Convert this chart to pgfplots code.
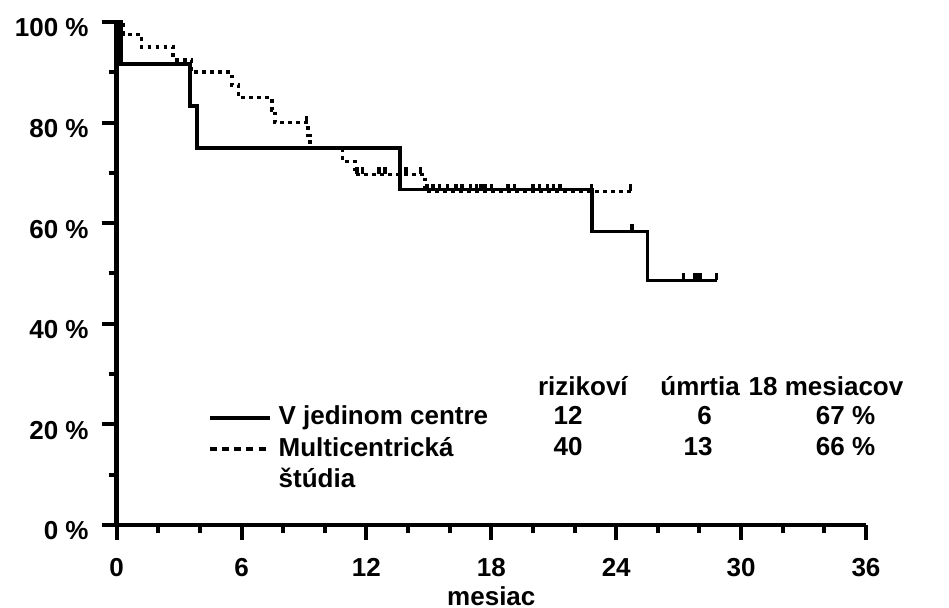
\documentclass[border=0pt]{standalone}
\usepackage{fontspec}
\setmainfont{Liberation Sans}
\usepackage{pgfplots}
\pgfplotsset{compat=1.18}
\newcommand{\myfont}{\bfseries\fontsize{13}{15.6}\selectfont}
\begin{document}
\begin{tikzpicture}
\begin{axis}[
  scale only axis, width=374.65pt, height=251.5pt,
  xmin=0, xmax=36, ymin=0, ymax=100,
  axis x line*=bottom, axis y line*=left,
  axis line style={line width=2.3pt, -},
  xtick={0,6,...,36}, minor x tick num=2,
  xticklabels={0,6,12,18,24,30,36},
  ytick={0,20,...,100}, minor y tick num=1,
  yticklabels={0 \%,20 \%,40 \%,60 \%,80 \%,100 \%},
  tick align=outside, major tick length=7.5pt, minor tick length=4pt,
  every tick/.append style={black, line width=2pt},
  /pgf/number format/assume math mode=true,
  tick label style={font=\myfont},
  xticklabel style={yshift=-5.5pt},
  yticklabel style={xshift=-3pt, yshift=-3pt},
  xlabel={mesiac},
  xlabel style={font=\myfont, at={(axis description cs:0.5,-0.160)}, anchor=base},
  clip=false,
  legend cell align=left,
  legend image code/.code={\draw[#1] (0pt,0pt) -- (30pt,0pt);},
  legend style={at={(axis cs:4.39,19.88)}, anchor=north west, yshift=10pt,
    draw=none, fill=none, inner sep=0pt, outer sep=0pt,
    row sep=2.5pt, column sep=3.5pt, font=\myfont,
    nodes={inner sep=0pt, text height=10pt, text depth=3pt}},
]
% V jedinom centre
\addplot[forget plot, black, line width=1.8pt, const plot] coordinates {
 (0,100) (0.2,91.67) (3.52,83.33) (3.87,75) (13.61,66.67) (22.83,58.33) (25.5,48.61) (28.83,48.61)};
% Multicentricka studia
\addplot[forget plot, black, line width=1.8pt, const plot, dash pattern=on 1.8pt off 2.2pt] coordinates {
 (0,100) (0.33,97.5) (1.2,95) (2.72,92.5) (3.6,90) (5.53,87.5) (5.85,85) (7.45,82.5) (7.61,80)
 (9.2,77.42) (9.3,74.84) (10.85,72.26) (11.45,69.68) (14.82,66.3) (24.7,66.3)};
% censored, single centre
\addplot[forget plot, only marks, mark=|, mark size=1.9pt,
  mark options={solid, black, line width=1.7pt, yshift=1.9pt}] coordinates {
 (24.75,58.33) (27.23,48.61) (27.79,48.61) (27.95,48.61) (28.05,48.61) (28.83,48.61)};
% censored, multicentre
\addplot[forget plot, only marks, mark=|, mark size=1.75pt,
  mark options={solid, black, line width=1.7pt, yshift=1.75pt}] coordinates {
 (9.13,80)
 (11.55,69.68) (11.8,69.68) (12.6,69.68) (12.9,69.68) (13.9,69.68) (14.6,69.68)
 (14.9,66.3) (15.2,66.3) (15.5,66.3) (15.9,66.3) (16.3,66.3) (16.6,66.3) (17.0,66.3)
 (17.3,66.3) (17.5,66.3) (17.7,66.3) (18.0,66.3) (18.8,66.3) (19.1,66.3)
 (20.0,66.3) (20.3,66.3) (20.7,66.3) (21.0,66.3) (21.3,66.3) (22.8,66.3) (24.7,66.3)};
% legend
\addlegendimage{black, line width=1.8pt}
\addlegendentry{V jedinom centre}
\addlegendimage{black, line width=1.8pt, dash pattern=on 3.5pt off 2.6pt}
\addlegendentry{Multicentrická}
\addlegendimage{empty legend}
\addlegendentry{štúdia}
% table
\node[font=\myfont, anchor=base] at (axis cs:22.40,25.84) {rizikoví};
\node[font=\myfont, anchor=base] at (axis cs:28.03,25.84) {úmrtia};
\node[font=\myfont, anchor=base] at (axis cs:34.08,25.84) {18 mesiacov};
\node[font=\myfont, anchor=base] at (axis cs:21.69,19.88) {12};
\node[font=\myfont, anchor=base] at (axis cs:28.25,19.88) {6};
\node[font=\myfont, anchor=base] at (axis cs:35.02,19.88) {67 \%};
\node[font=\myfont, anchor=base] at (axis cs:21.69,13.72) {40};
\node[font=\myfont, anchor=base] at (axis cs:27.93,13.72) {13};
\node[font=\myfont, anchor=base] at (axis cs:35.02,13.72) {66 \%};
\coordinate (bbsw) at (rel axis cs:-0.1557,-0.165);
\coordinate (bbne) at (rel axis cs:1.1108,1.0437);
\end{axis}
\pgfresetboundingbox
\path[use as bounding box] (bbsw) rectangle (bbne);
\end{tikzpicture}
\end{document}
